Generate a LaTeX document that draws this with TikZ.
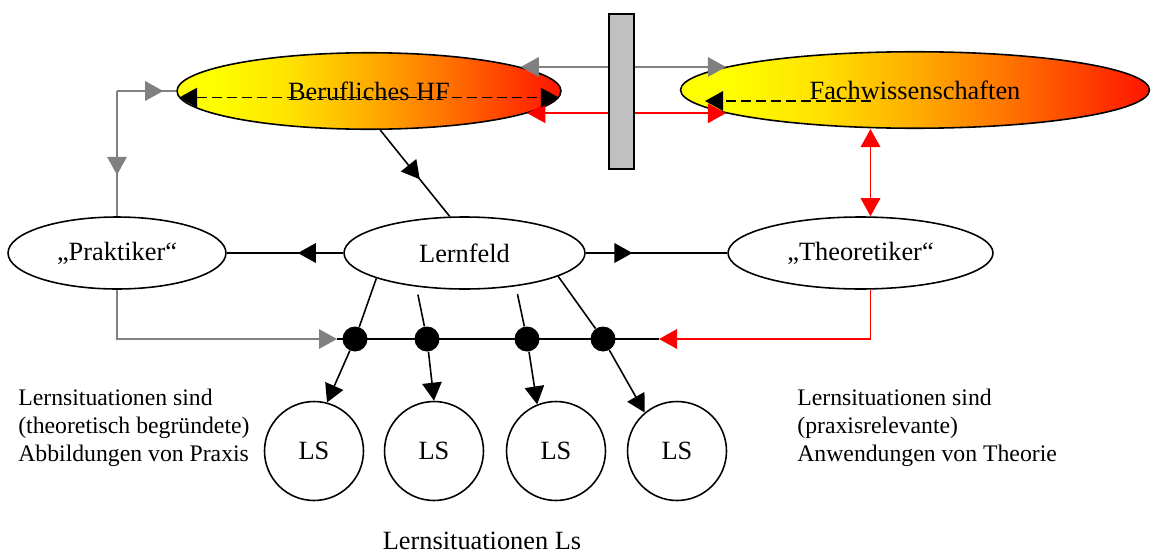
\documentclass[tikz,border=0pt]{standalone}
\usepackage{fontspec}
\setmainfont{Liberation Serif}
\usetikzlibrary{shapes.geometric,arrows.meta,decorations.markings}

\pgfdeclarehorizontalshading{flame}{100bp}{rgb(0bp)=(1,1,0); rgb(30bp)=(1,1,0); rgb(40bp)=(1,0.88,0); rgb(50bp)=(1,0.68,0); rgb(60bp)=(1,0.45,0); rgb(68bp)=(1,0.25,0); rgb(75bp)=(1,0.08,0); rgb(100bp)=(1,0.08,0)}
\definecolor{barfill}{RGB}{192,192,192}

\tikzset{
  >={Triangle[length=3.6mm,width=3.9mm]},
  every node/.style={font=\fontsize{15}{18}\selectfont},
  oval/.style={ellipse,draw,line width=0.9pt,inner sep=0pt,minimum height=14.4mm},
  hot/.style={oval,shade,shading=flame,minimum height=15.3mm},
  ls/.style={circle,draw,line width=0.9pt,minimum size=19.8mm,inner sep=0pt},
  joint/.style={circle,fill,minimum size=5mm,inner sep=0pt},
  grayline/.style={gray,line width=0.9pt},
  redline/.style={red,line width=0.9pt},
  dashline/.style={dash pattern=on 2mm off 1mm,line width=0.9pt},
  midarrow/.style={postaction={decorate,decoration={markings,mark=at position #1 with {\arrow{>}}}}},
  note/.style={align=left,anchor=west,inner sep=0pt,font=\fontsize{13.5}{15.9}\selectfont}
}

\begin{document}
\begin{tikzpicture}[x=0.02cm,y=-0.02cm]
\useasboundingbox (0,0) rectangle (1151,554);

\node[hot,minimum width=76.8mm] (hf) at (369,91) {Berufliches HF};
\node[hot,minimum width=93.8mm] (fach) at (915,90) {Fachwissenschaften};
\node[oval,minimum width=43.6mm] (pk) at (117,253) {„Praktiker“};
\node[oval,minimum width=48.2mm] (lf) at (464.5,253) {Lernfeld};
\node[oval,minimum width=53mm] (th) at (860.5,253) {„Theoretiker“};

\foreach \i/\x in {1/314,2/434,3/556,4/677}
  \node[ls] (ls\i) at (\x,451) {LS};
\foreach \i/\x in {1/355,2/427,3/527,4/603}
  \node[joint] (d\i) at (\x,339) {};
\coordinate (busl) at (337,339);
\coordinate (busr) at (659,339);

\draw[grayline,<->] (hf.9) -- (hf.9 -| fach.173);
\draw[redline,<->] (hf.-8) -- (hf.-8 -| fach.187);
\draw[dashline,<->] (hf.182.5) -- (hf.-2.4);
\draw[dashline,->] ([shift={(-44,11)}]fach.center) -- ([shift={(-210,11)}]fach.center);
\node[draw,fill=barfill,line width=0.9pt,minimum width=5mm,minimum height=31mm,inner sep=0pt] (bar) at (621.5,91.5) {};

\draw[line width=0.9pt,midarrow=0.57] (hf.-74) -- (lf.112);
\draw[redline,<->] ([xshift=2mm]th.north) -- ([xshift=2mm]th.north |- fach.south);
\draw[grayline,midarrow=0.78] (pk.north |- hf.west) -- (hf.west);
\draw[grayline,midarrow=0.67] (pk.north |- hf.west) -- (pk.north);

\draw[line width=0.9pt,midarrow=0.39] (lf) -- (pk);
\draw[line width=0.9pt,midarrow=0.33] (lf) -- (th);

\draw[grayline,->] (pk.south) |- (busl);
\draw[redline,->] ([xshift=2mm]th.south) |- (busr);
\draw[line width=0.9pt] (busl) -- (busr);
\foreach \i/\a/\b/\s in {1/196/75/0,2/215/90/1.6,3/-33/112/1.6,4/-14/130/0}
{
  \draw[line width=0.9pt,shorten <=\s mm] (lf.\a) -- (d\i);
  \draw[line width=0.9pt,->] (d\i) -- (ls\i.\b);
}

\node[note] (left) at (18,428) {Lernsituationen sind\\(theoretisch begründete)\\Abbildungen von Praxis};
\node[note] (right) at (797,428) {Lernsituationen sind\\(praxisrelevante)\\Anwendungen von Theorie};
\node[inner sep=0pt] (bottom) at (482,541) {Lernsituationen Ls};
\end{tikzpicture}
\end{document}
